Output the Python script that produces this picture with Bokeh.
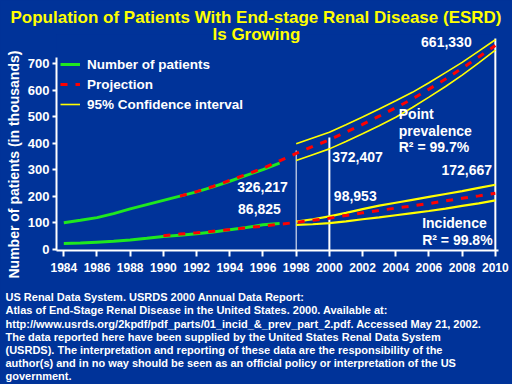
import math
from bokeh.plotting import figure
from bokeh.models import (Range1d, FixedTicker, Label, Legend, LegendItem, Title)
from bokeh.embed import file_html
from bokeh.resources import INLINE

BG = "#003399"
FONT = "Liberation Sans"
GREEN = "#1FE81F"
RED = "#FF0000"
YELLOW = "#FFFF00"

# ---------------- data (thousands of patients) ----------------
obs_years = [1984, 1985, 1986, 1987, 1988, 1989, 1990, 1991, 1992, 1993, 1994, 1995, 1996, 1997]
prevalence = [101, 110, 120, 135, 153, 169, 185, 201, 217, 236, 257, 279, 301, 325]
incidence = [22.6, 24, 27.5, 31, 36, 42, 49, 54, 59, 66, 74, 83, 93, 98]

prev_proj_years = [1991, 1992, 1993, 1994, 1995, 1996, 1997, 1998, 1999, 2000,
                   2001, 2002, 2003, 2004, 2005, 2006, 2007, 2008, 2009, 2010]
prev_proj = [201, 218, 238, 260, 283, 306, 334, 362, 388, 413,
             442, 471, 502, 534, 567, 604, 642, 683, 725, 768]

inc_proj_years = [1990, 1991, 1992, 1993, 1994, 1995, 1996, 1997, 1998, 1999, 2000,
                  2001, 2002, 2003, 2004, 2005, 2006, 2007, 2008, 2009, 2010]
inc_proj = [52, 58, 63, 69, 75, 82, 88, 95, 102, 110, 118,
            128, 138, 147, 156, 164, 173, 183, 193, 202, 212]

ci_years = [1998, 1999, 2000, 2001, 2002, 2003, 2004, 2005, 2006, 2007, 2008, 2009, 2010]
prev_ci_hi = [398, 420, 442, 470, 499, 529, 560, 592, 628, 666, 705, 747, 790]
prev_ci_lo = [335, 357, 379, 407, 436, 466, 498, 535, 574, 614, 657, 703, 751]
inc_ci_hi = [105, 114, 125, 138, 152, 165, 176, 187, 198, 209, 220, 232, 244]
inc_ci_lo = [93, 95, 99, 106, 114, 121, 129, 137, 145, 154, 164, 174, 185]

marker_years = [1998, 2000, 2010]
marker_tops = [373, 422, 795]

x_ticks = [1984, 1986, 1988, 1990, 1992, 1994, 1996, 1998, 2000, 2002, 2004, 2006, 2008, 2010]
y_ticks = [0, 100, 200, 300, 400, 500, 600, 700]

title_lines = ["Population of Patients With End-stage Renal Disease (ESRD)", "Is Growing"]
y_title = "Number of patients (in thousands)"
footer_lines = [
    "US Renal Data System. USRDS 2000 Annual Data Report:",
    "Atlas of End-Stage Renal Disease in the United States. 2000. Available at:",
    "http://www.usrds.org/2kpdf/pdf_parts/01_incid_&_prev_part_2.pdf. Accessed May 21, 2002.",
    "The data reported here have been supplied by the United States Renal Data System",
    "(USRDS). The interpretation and reporting of these data are the responsibility of the",
    "author(s) and in no way should be seen as an official policy or interpretation of the US",
    "government.",
]

# ---------------- figure ----------------
W, H = 512, 384
FL, FR, FT, FB = 56, 498, 34, 250      # frame edges in figure pixels
x0, x1 = 1983.56, 2010.19
y0, y1 = -3.8, 809.8

p = figure(width=W, height=H, x_range=Range1d(x0, x1), y_range=Range1d(y0, y1),
           output_backend="svg", toolbar_location=None,
           min_border_left=FL, min_border_right=W - FR, min_border_top=FT,
           min_border_bottom=H - FB,
           background_fill_color=BG, border_fill_color=BG, outline_line_color=None)
p.grid.visible = False

for ax in (p.xaxis, p.yaxis):
    ax.axis_line_color = "white"
    ax.axis_line_width = 2
    ax.major_tick_line_color = "white"
    ax.major_tick_line_width = 2
    ax.minor_tick_line_color = None
    ax.major_tick_in = 0
    ax.major_label_text_color = "white"
    ax.major_label_text_font = FONT
    ax.major_label_text_font_style = "bold"

p.xaxis.ticker = FixedTicker(ticks=x_ticks)
p.xaxis.major_tick_out = 6
p.xaxis.major_label_standoff = 6
p.xaxis.major_label_text_font_size = "12px"

p.yaxis.ticker = FixedTicker(ticks=y_ticks)
p.yaxis.major_tick_out = 4
p.yaxis.major_label_standoff = 3
p.yaxis.major_label_text_font_size = "13px"
p.yaxis.bounds = (y0, 725)

# marker lines
p.segment(x0=marker_years, y0=[y0] * len(marker_years), x1=marker_years, y1=marker_tops,
          line_color="white", line_width=[1, 2, 2])

# confidence intervals
ci_r = p.line(ci_years, prev_ci_hi, line_color=YELLOW, line_width=1.6)
p.line(ci_years, prev_ci_lo, line_color=YELLOW, line_width=1.6)
p.line(ci_years, inc_ci_hi, line_color=YELLOW, line_width=2.2)
p.line(ci_years, inc_ci_lo, line_color=YELLOW, line_width=2.2)

# observed
obs_r = p.line(obs_years, prevalence, line_color=GREEN, line_width=3)
p.line(obs_years, incidence, line_color=GREEN, line_width=3)

# projections
proj_r = p.line(prev_proj_years, prev_proj, line_color=RED, line_width=3, line_dash="7 8")
p.line(inc_proj_years, inc_proj, line_color=RED, line_width=3, line_dash="7 8")

legend = Legend(items=[LegendItem(label="Number of patients", renderers=[obs_r]),
                       LegendItem(label="Projection", renderers=[proj_r]),
                       LegendItem(label="95% Confidence interval", renderers=[ci_r])],
                location=(4, (FB - FT) - 80),
                background_fill_alpha=0, border_line_color=None,
                padding=0, margin=0, spacing=0,
                glyph_width=20, glyph_height=20, label_height=20, label_standoff=7,
                label_text_color="white", label_text_font=FONT,
                label_text_font_style="bold", label_text_font_size="13.5px")
p.add_layout(legend)

# in-plot annotations
notes = [
    ("661,330", 2007.05, 783, "center"),
    ("Point", 2004.18, 511, "left"),
    ("prevalence", 2004.18, 448, "left"),
    ("R\u00b2 = 99.7%", 2004.18, 385, "left"),
    ("372,407", 2000.17, 348, "left"),
    ("172,667", 2006.75, 300, "left"),
    ("98,953", 2000.27, 203, "left"),
    ("326,217", 1994.45, 237, "left"),
    ("86,825", 1994.5, 153, "left"),
    ("Incidence", 2005.59, 99, "left"),
    ("R\u00b2 = 99.8%", 2005.59, 36.5, "left"),
]
for t, x, y, al in notes:
    p.add_layout(Label(x=x, y=y, text=t, text_align=al, text_baseline="middle",
                       text_color="white", text_font=FONT, text_font_style="bold",
                       text_font_size="14px"))

# titles (closest to the frame first)
p.add_layout(Title(text=title_lines[1], align="left", offset=212 - FL,
                   standoff=-18, text_color=YELLOW, text_font=FONT,
                   text_font_style="bold", text_font_size="17px"), "above")
p.add_layout(Title(text=title_lines[0], align="left", offset=10 - FL,
                   standoff=10, text_color=YELLOW, text_font=FONT,
                   text_font_style="bold", text_font_size="17px"), "above")

# y-axis title
p.add_layout(Title(text=y_title, align="left", offset=-28, standoff=6,
                   text_color="white", text_font=FONT, text_font_style="bold",
                   text_font_size="14px"), "left")

# footer: a blank spacer below the axis, then the source notes
p.add_layout(Title(text=" ", align="left", standoff=12, text_color=BG,
                   text_font=FONT, text_font_size="1px"), "below")
p.add_layout(Title(text="\n".join(footer_lines), align="left", offset=5 - FL,
                   standoff=0, text_color="white", text_font=FONT,
                   text_font_style="bold", text_font_size="11px",
                   text_line_height=1.1), "below")

html = file_html(p, INLINE)
html = html.replace("</head>", "<style>html, body { background-color: #003399; }</style></head>", 1)
open("out.html", "w").write(html)
